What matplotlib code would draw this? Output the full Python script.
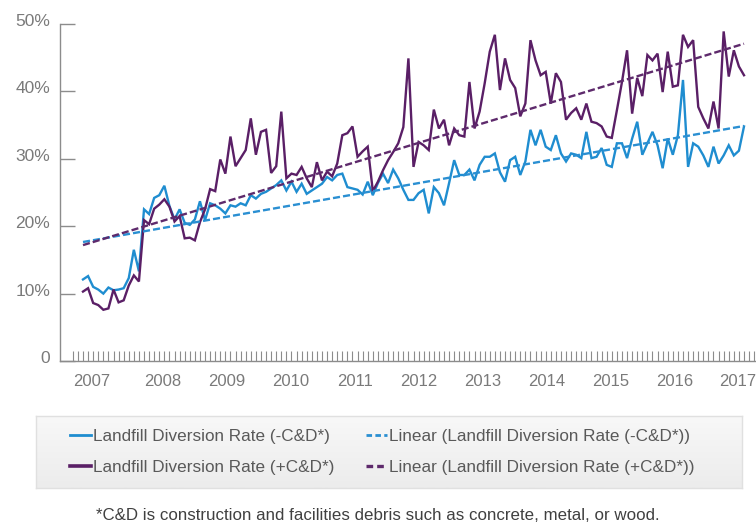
import numpy as np
import matplotlib
matplotlib.use("Agg")
import matplotlib.pyplot as plt
from matplotlib import font_manager as fm
from matplotlib.lines import Line2D
from matplotlib.colors import LinearSegmentedColormap
from matplotlib.transforms import ScaledTranslation

# ---------------- data ----------------
# Landfill diversion rate excluding construction & demolition debris (%)
rate_minus_cd = [
    12.1, 12.6, 11.0, 10.6, 10.0, 10.9, 10.5, 10.6, 10.8, 12.3,
    16.5, 13.3, 22.5, 21.8, 24.2, 24.6, 26.0, 23.0, 21.0, 22.5,
    20.5, 20.2, 21.0, 23.7, 20.9, 23.4, 23.1, 22.6, 21.9, 23.1,
    22.9, 23.4, 23.1, 24.6, 24.1, 24.8, 25.1, 25.6, 26.1, 26.8,
    25.3, 26.6, 25.1, 26.3, 24.8, 25.3, 25.8, 26.3, 27.3, 26.8,
    27.6, 27.8, 25.8, 25.6, 25.4, 24.7, 26.6, 24.6, 26.4, 27.8,
    26.4, 28.4, 27.1, 25.4, 23.9, 23.9, 24.9, 25.4, 21.9, 25.8,
    24.9, 23.1, 26.4, 29.8, 27.6, 27.6, 28.4, 26.8, 29.1, 30.3,
    30.3, 30.8, 28.0, 26.6, 29.8, 30.3, 27.6, 29.6, 34.3, 32.0,
    34.3, 31.8, 31.3, 33.5, 30.8, 29.6, 30.8, 30.6, 30.1, 34.0,
    30.1, 30.3, 31.6, 29.1, 28.8, 32.3, 32.3, 30.1, 33.0, 35.5,
    30.6, 32.3, 34.0, 32.0, 28.6, 33.0, 30.6, 33.5, 41.7, 28.8,
    32.3, 31.8, 30.5, 28.8, 31.8, 29.3, 30.5, 32.0, 30.5, 31.2,
    34.8,
]

# Landfill diversion rate including construction & demolition debris (%)
rate_plus_cd = [
    10.3, 10.8, 8.6, 8.3, 7.6, 7.8, 10.6, 8.7, 9.0, 11.2,
    12.7, 11.8, 20.9, 20.3, 22.6, 23.2, 24.0, 22.9, 20.7, 21.5,
    18.2, 18.3, 17.9, 20.6, 22.5, 25.5, 25.2, 29.9, 27.8, 33.3,
    28.9, 30.1, 31.3, 36.0, 30.6, 34.0, 34.3, 27.9, 28.9, 37.0,
    27.1, 27.8, 27.6, 28.8, 27.1, 25.8, 29.5, 26.8, 28.1, 27.4,
    29.3, 33.5, 33.8, 34.8, 30.3, 31.1, 31.8, 25.2, 26.6, 28.3,
    29.8, 31.0, 32.3, 34.7, 44.9, 28.8, 32.5, 32.0, 31.3, 37.3,
    34.5, 35.8, 32.0, 34.5, 33.5, 33.3, 41.4, 34.5, 37.0, 41.2,
    45.9, 48.4, 40.2, 44.9, 41.7, 40.5, 36.3, 38.2, 47.6, 44.6,
    42.4, 42.9, 38.2, 42.7, 41.4, 35.8, 36.8, 37.5, 35.8, 38.2,
    35.5, 35.3, 34.8, 33.3, 33.1, 37.2, 41.4, 46.1, 36.7, 42.0,
    39.3, 45.4, 44.6, 45.6, 39.9, 45.9, 40.7, 40.9, 48.4, 46.6,
    47.6, 37.7, 36.0, 34.5, 38.5, 34.5, 48.9, 42.2, 46.1, 43.7,
    42.4,
]

year_labels = ["2007", "2008", "2009", "2010", "2011", "2012",
               "2013", "2014", "2015", "2016", "2017"]
y_ticks = [0, 10, 20, 30, 40, 50]
y_tick_labels = ["0", "10%", "20%", "30%", "40%", "50%"]
legend_labels = [
    "Landfill Diversion Rate (-C&D*)",
    "Landfill Diversion Rate (+C&D*)",
    "Linear (Landfill Diversion Rate (-C&D*))",
    "Linear (Landfill Diversion Rate (+C&D*))",
]
footnote = "*C&D is construction and facilities debris such as concrete, metal, or wood."

# ---------------- style ----------------
BLUE = "#1f8dd0"
BLUE_T = "#2a8fd2"
PURPLE = "#5a1f66"
PURPLE_T = "#5e2a6c"
AXIS_GRAY = "#8c8c8c"
TICK_TXT = "#7a7a7a"
LEG_TXT = "#595959"

names = {f.name for f in fm.fontManager.ttflist}
BASE = "Liberation Sans" if "Liberation Sans" in names else "DejaVu Sans"
NARROW = "Liberation Sans Narrow" if "Liberation Sans Narrow" in names else None
plt.rcParams["font.family"] = [BASE, "DejaVu Sans"]

W, H = 756, 527
fig = plt.figure(figsize=(W / 100, H / 100), dpi=100)
fig.patch.set_facecolor("white")

# plot area (pixel layout of the reference)
x0_px, xN_px = 83, 744
ax = fig.add_axes([60 / W, 1 - 361 / H, (W - 60) / W, (361 - 24) / H])

x = np.arange(len(rate_plus_cd))
N = len(x)
step = (xN_px - x0_px) / (N - 1)

ax.plot(x, rate_minus_cd, color=BLUE, lw=1.7, zorder=3, solid_joinstyle="miter")
ax.plot(x, rate_plus_cd, color=PURPLE, lw=1.7, zorder=3, solid_joinstyle="miter")

for vals, col in ((rate_minus_cd, BLUE_T), (rate_plus_cd, PURPLE_T)):
    coef = np.polyfit(x, vals, 1)
    ax.plot(x, np.polyval(coef, x), color=col, lw=1.7, dashes=(3.0, 1.3), zorder=4)

ax.set_ylim(0, 50)
ax.set_xlim(-(x0_px - 60) / step, (N - 1) + (W - xN_px) / step)

for s in ("top", "right"):
    ax.spines[s].set_visible(False)
for s in ("left", "bottom"):
    ax.spines[s].set_color(AXIS_GRAY)
    ax.spines[s].set_linewidth(1.0)

# y axis
ax.set_yticks(y_ticks)
ax.set_yticklabels(y_tick_labels)
ax.tick_params(axis="y", direction="in", length=11, width=1.0, color=AXIS_GRAY,
               pad=7, labelsize=12.5, labelcolor=TICK_TXT)
for lab in ax.get_yticklabels():
    lab.set_transform(lab.get_transform() + ScaledTranslation(0, 4 / 100, fig.dpi_scale_trans))

# x axis: monthly minor ticks, year labels
ax.set_xticks(np.arange(-2, N + 2), minor=True)
label_px = [92] + [163 + 63.9 * i for i in range(len(year_labels) - 1)]
ax.set_xticks([(p - x0_px) / step for p in label_px])
ax.set_xticklabels(year_labels)
ax.tick_params(axis="x", which="minor", direction="in", length=7, width=0.8, color=AXIS_GRAY)
if NARROW:
    ax.tick_params(axis="x", which="major", length=0, pad=9, labelsize=13.5, labelcolor=TICK_TXT)
    for lab in ax.get_xticklabels():
        lab.set_family([NARROW, BASE])
else:
    ax.tick_params(axis="x", which="major", length=0, pad=9, labelsize=12, labelcolor=TICK_TXT)

# legend box with soft gradient
box = fig.add_axes([36 / W, 1 - 488 / H, 706 / W, 72 / H])
grad = np.linspace(0, 1, 64).reshape(-1, 1)
cmap = LinearSegmentedColormap.from_list("g", ["#f8f8f8", "#ececec"])
box.imshow(grad, aspect="auto", cmap=cmap, extent=[0, 1, 0, 1], origin="upper")
box.set_xlim(0, 1)
box.set_ylim(0, 1)
for s in box.spines.values():
    s.set_color("#e0e0e0")
    s.set_linewidth(1.0)
box.set_xticks([])
box.set_yticks([])

handles = [
    Line2D([], [], color=BLUE, lw=2.0),
    Line2D([], [], color=PURPLE, lw=2.6),
    Line2D([], [], color=BLUE_T, lw=2.0, dashes=(2.0, 1.2)),
    Line2D([], [], color=PURPLE_T, lw=2.4, dashes=(2.0, 1.2)),
]
fig.legend(handles, legend_labels, ncol=2, loc="center left",
           bbox_to_anchor=(70 / W, 1 - 452 / H), frameon=False,
           borderpad=0, borderaxespad=0, fontsize=12.3,
           handlelength=1.2, handletextpad=0.15, columnspacing=1.85,
           labelspacing=0.9, labelcolor=LEG_TXT)

fig.text(378 / W, 1 - 515 / H, footnote, ha="center", va="center",
         fontsize=12.2, color="#404040")

fig.savefig("out.png", dpi=100, facecolor="white")
